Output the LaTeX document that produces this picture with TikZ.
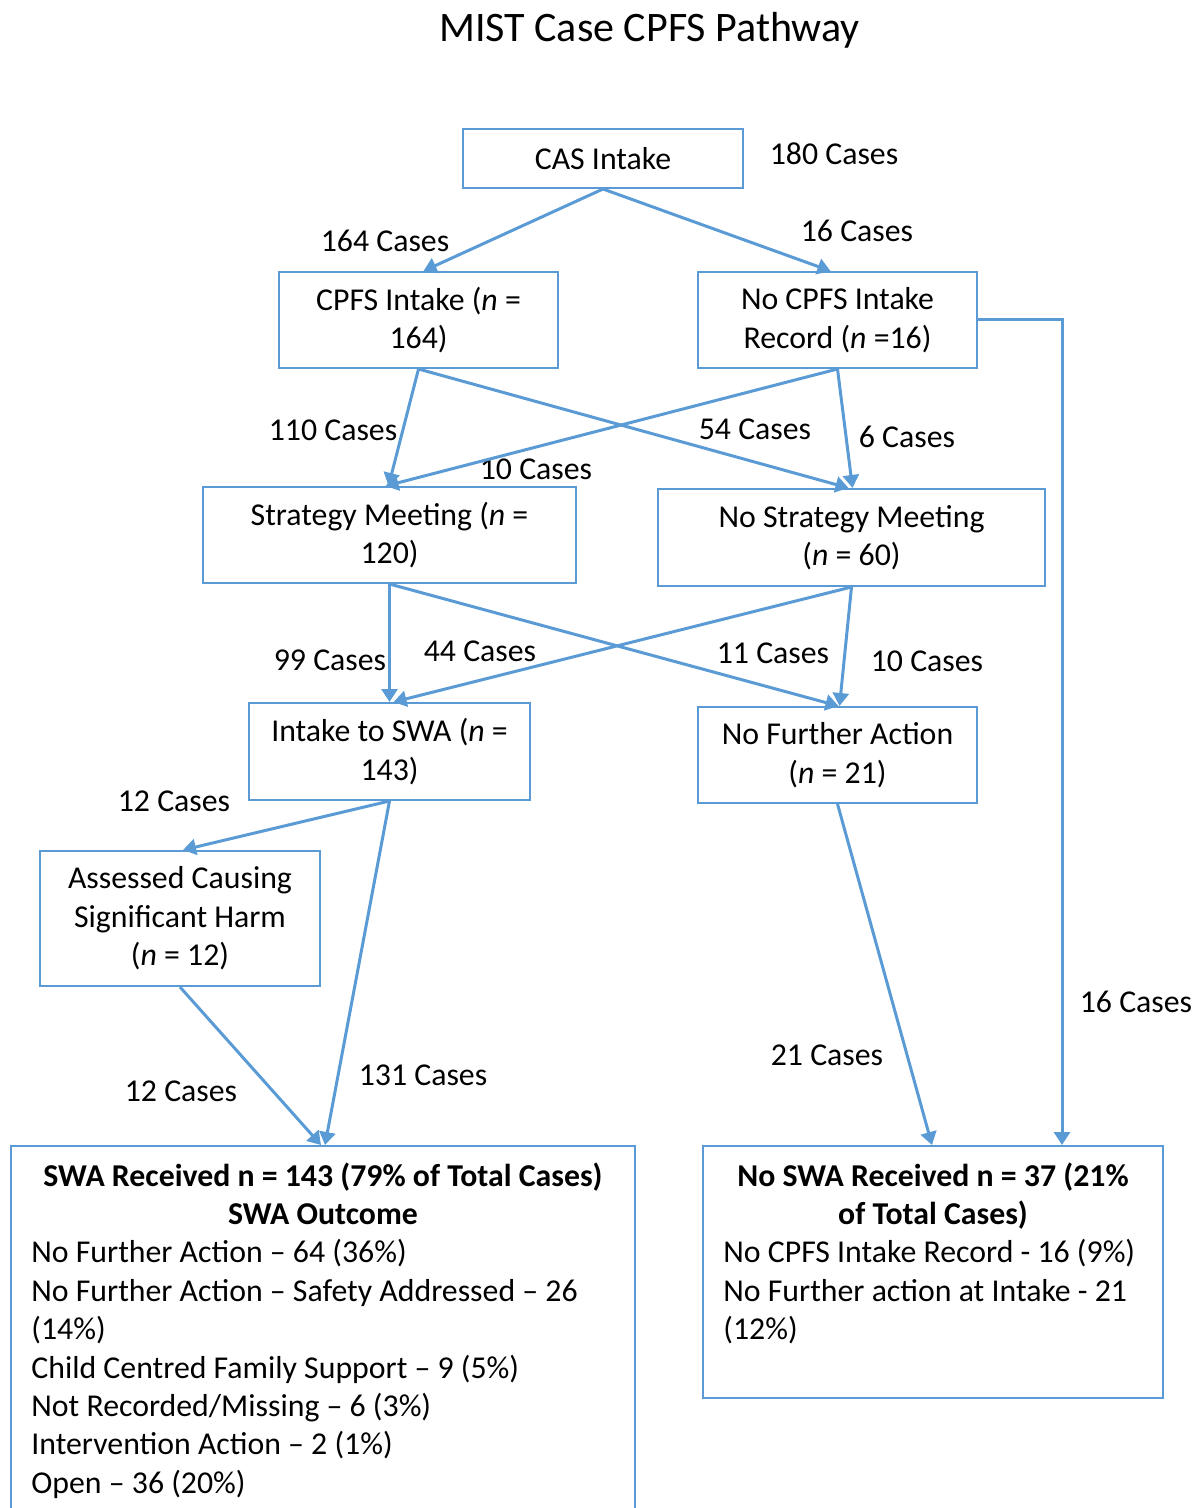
\documentclass[tikz,border=0pt]{standalone}
\usepackage{fontspec}
\setmainfont{Carlito}
\usetikzlibrary{arrows.meta}
\definecolor{flowblue}{HTML}{5B9BD5}
\begin{document}
\begin{tikzpicture}[x=0.5pt,y=-0.5pt,
  every node/.style={font=\fontsize{15.9}{19.2}\selectfont, inner sep=0pt},
  box/.style={draw=flowblue, line width=1pt, align=center, inner sep=0pt},
  flow/.style={draw=flowblue, line width=1.5pt, -{Triangle[length=6.5pt,width=8pt]}},
  headline/.style={font=\fontsize{15.9}{19.2}\selectfont\bfseries, anchor=base},
  listline/.style={anchor=base west}]
\useasboundingbox (0,0) rectangle (1200,1508);

% title
\node[font=\fontsize{21}{25}\selectfont, anchor=base] (title) at (649.5,42) {MIST Case CPFS Pathway};

% pathway stages
\node[box, minimum width=140pt, minimum height=29.5pt] (cas) at (603,158.5) {CAS Intake};
\node[box, minimum width=139.5pt, minimum height=48pt] (cpfs) at (418.5,320) {CPFS Intake (\textit{n} =\\164)};
\node[box, minimum width=139.5pt, minimum height=48pt] (nocpfs) at (837.5,320) {No CPFS Intake\\Record (\textit{n} =16)};
\node[box, minimum width=186.5pt, minimum height=48pt] (sm) at (389.5,535) {Strategy Meeting (\textit{n} =\\120)};
\node[box, minimum width=193.5pt, minimum height=48.5pt] (nsm) at (851.5,537.5) {No Strategy Meeting\\(\textit{n} = 60)};
\node[box, minimum width=140.5pt, minimum height=48.5pt] (swa) at (389.5,751.5) {Intake to SWA (\textit{n} =\\143)};
\node[box, minimum width=139.5pt, minimum height=48pt] (nfa) at (837.5,755) {No Further Action\\(\textit{n} = 21)};
\node[box, minimum width=140pt, minimum height=67.5pt] (acsh) at (180,918.5) {Assessed Causing\\Significant Harm\\(\textit{n} = 12)};

% outcome boxes
\node[box, minimum width=312pt, minimum height=192pt] (swarec) at (323,1338) {};
\node[box, minimum width=230pt, minimum height=126pt] (noswa) at (933,1272) {};

% SWA received contents
\node[headline] (swah1) at (323,1186) {SWA Received n = 143 (79\% of Total Cases)};
\node[headline] (swah2) at (323,1224.4) {SWA Outcome};
\node[listline] (swa1) at (31,1262.8) {No Further Action – 64 (36\%)};
\node[listline] (swa2) at (31,1301.2) {No Further Action – Safety Addressed – 26};
\node[listline] (swa3) at (31,1339.6) {(14\%)};
\node[listline] (swa4) at (31,1378) {Child Centred Family Support – 9 (5\%)};
\node[listline] (swa5) at (31,1416.4) {Not Recorded/Missing – 6 (3\%)};
\node[listline] (swa6) at (31,1454.8) {Intervention Action – 2 (1\%)};
\node[listline] (swa7) at (31,1493.2) {Open – 36 (20\%)};

% No SWA received contents
\node[headline] (nsh1) at (933,1186) {No SWA Received n = 37 (21\%};
\node[headline] (nsh2) at (933,1224.4) {of Total Cases)};
\node[listline] (ns1) at (723,1262.8) {No CPFS Intake Record - 16 (9\%)};
\node[listline] (ns2) at (723,1301.2) {No Further action at Intake - 21};
\node[listline] (ns3) at (723,1339.6) {(12\%)};

% case counts
\node (c180) at (834,154) {180 Cases};
\node (c164) at (385,241) {164 Cases};
\node (c16a) at (857,231) {16 Cases};
\node (c110) at (333,430) {110 Cases};
\node (c54) at (755,429) {54 Cases};
\node (c10a) at (536,469) {10 Cases};
\node (c6) at (907,437) {6 Cases};
\node (c99) at (330,660) {99 Cases};
\node (c44) at (480,651) {44 Cases};
\node (c11) at (773,653) {11 Cases};
\node (c10b) at (927,661) {10 Cases};
\node (c12a) at (174,801) {12 Cases};
\node (c131) at (423,1075) {131 Cases};
\node (c12b) at (181,1091) {12 Cases};
\node (c21) at (827,1055) {21 Cases};
\node (c16b) at (1136,1002) {16 Cases};

% connectors
\draw[flow] (cas.south) -- ([xshift=2.5pt]cpfs.north);
\draw[flow] (cas.south) -- ([xshift=-3.5pt]nocpfs.north);
\draw[flow] (cpfs.south) -- ([xshift=-0.5pt]sm.north);
\draw[flow] (cpfs.south) -- ([xshift=-1.5pt]nsm.north);
\draw[flow] (nocpfs.south) -- ([xshift=-2pt]sm.north);
\draw[flow] (nocpfs.south) -- ([xshift=0.5pt]nsm.north);
\draw[flow] (nocpfs.east) -| ([xshift=64.5pt]noswa.north);
\draw[flow] (sm.south) -- (swa.north);
\draw[flow] (sm.south) -- ([xshift=0.5pt]nfa.north);
\draw[flow] (nsm.south) -- ([xshift=2pt]swa.north);
\draw[flow] (nsm.south) -- ([xshift=1pt]nfa.north);
\draw[flow] (swa.south) -- ([xshift=1.5pt]acsh.north);
\draw[flow] (swa.south) -- ([xshift=1pt]swarec.north);
\draw[flow] (acsh.south) -- ([xshift=-1pt]swarec.north);
\draw[flow] (nfa.south) -- ([xshift=-0.5pt]noswa.north);
\end{tikzpicture}
\end{document}
